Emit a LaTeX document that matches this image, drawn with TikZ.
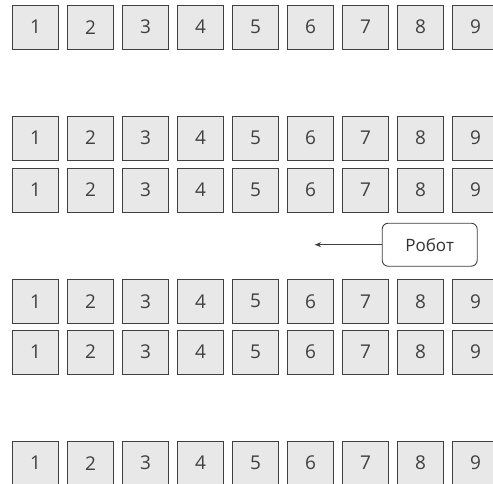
\documentclass[tikz,border=0pt]{standalone}
\usepackage{fontspec}
\setmainfont{Open Sans}
\usetikzlibrary{arrows.meta}
\begin{document}
\begin{tikzpicture}[x=1pt,y=-1pt,
  cell/.style={draw=black!75, line width=0.9pt, fill=black!9, minimum width=46pt, minimum height=44pt, inner sep=0pt, anchor=north west, font=\fontsize{19}{21}\selectfont, text=black!75},
  robot/.style={draw=black!75, line width=0.9pt, rounded corners=6pt, fill=white, minimum width=95pt, minimum height=43pt, inner sep=0pt, font=\fontsize{17}{19}\selectfont, text=black!80},
  arr/.style={draw=black!75, line width=0.9pt, -{Stealth[length=6.5pt,width=5pt]}}]
\useasboundingbox (0,0) rectangle (493,483);
\foreach \r/\y in {1/4.7,2/115.5,3/167.5,4/278.8,5/329.5,6/440.7}{
  \foreach \c in {1,...,9}{
    \node[cell] (r\r c\c) at ({12+55*(\c-1)},\y) {\c};
  }
}
\node[robot] (robot) at (429.7,244.7) {Робот};
\coordinate (arrend) at (314.7,244.7);
\draw[arr] (robot.west) -- (arrend);
\end{tikzpicture}
\end{document}
